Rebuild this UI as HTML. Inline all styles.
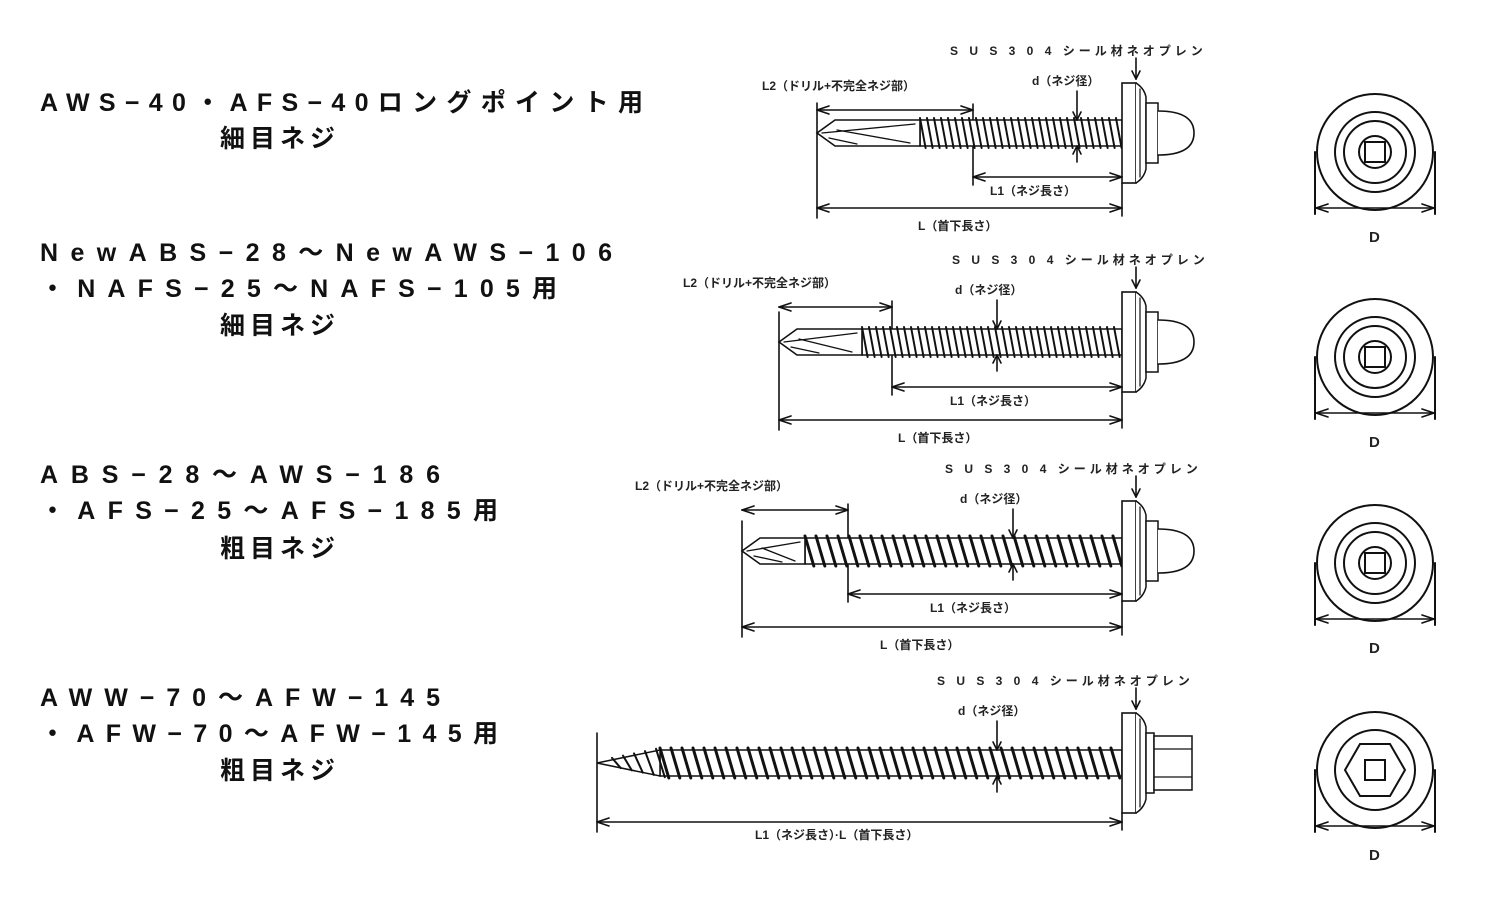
<!DOCTYPE html>
<html><head><meta charset="utf-8"><style>
body{margin:0;background:#fff;width:1500px;height:900px;overflow:hidden}
svg{position:absolute;left:0;top:0}
.t{font-family:"Liberation Sans","Noto Sans CJK JP",sans-serif;font-weight:bold;font-size:25px;fill:#111}
.s{font-family:"Liberation Sans","Noto Sans CJK JP",sans-serif;font-weight:bold;font-size:12px;fill:#222}
.sp{letter-spacing:4px}
</style></head><body>
<svg id="g" width="1500" height="900" viewBox="0 0 1500 900" stroke-linecap="round">
<text class="t" x="40" y="111" textLength="603" lengthAdjust="spacing">AWS−40・AFS−40ロングポイント用</text>
<text class="t" x="220" y="147" textLength="115" lengthAdjust="spacing">細目ネジ</text>
<text class="t" x="40" y="261" textLength="572" lengthAdjust="spacing">NewABS−28〜NewAWS−106</text>
<text class="t" x="40" y="297" textLength="517" lengthAdjust="spacing">・NAFS−25〜NAFS−105用</text>
<text class="t" x="220" y="334" textLength="115" lengthAdjust="spacing">細目ネジ</text>
<text class="t" x="40" y="483" textLength="400" lengthAdjust="spacing">ABS−28〜AWS−186</text>
<text class="t" x="40" y="519" textLength="458" lengthAdjust="spacing">・AFS−25〜AFS−185用</text>
<text class="t" x="220" y="557" textLength="115" lengthAdjust="spacing">粗目ネジ</text>
<text class="t" x="40" y="706" textLength="400" lengthAdjust="spacing">AWW−70〜AFW−145</text>
<text class="t" x="40" y="742" textLength="458" lengthAdjust="spacing">・AFW−70〜AFW−145用</text>
<text class="t" x="220" y="779" textLength="115" lengthAdjust="spacing">粗目ネジ</text>
</svg>
<script>
var g=document.getElementById('g'),NS='http://www.w3.org/2000/svg';
function el(n,a,txt){var e=document.createElementNS(NS,n);for(var k in a)e.setAttribute(k,a[k]);if(txt)e.textContent=txt;g.appendChild(e);return e;}
function ln(x1,y1,x2,y2,w){el('line',{x1:x1,y1:y1,x2:x2,y2:y2,stroke:'#111','stroke-width':w||1.6});}
function arrowH(x1,x2,y){ln(x1,y,x2,y);ln(x1,y,x1+12,y-4);ln(x1,y,x1+12,y+4);ln(x2,y,x2-12,y-4);ln(x2,y,x2-12,y+4);}
function txt(x,y,s,cls){el('text',{x:x,y:y,'class':cls||'s'},s);}
function screw(o){
 var cy=o.cy,tip=o.tip,wx=1122,top=cy-13,bot=cy+13;
 el('rect',{x:o.thStart,y:top,width:wx-o.thStart,height:26,fill:'#fff',stroke:'#111','stroke-width':1.5});
 for(var x=o.thStart;x<wx-2;x+=o.pitch){ln(x,top-2,x+o.pitch*0.8,bot+2,o.coarse?3:2);}
 if(o.wood){
  el('path',{d:'M'+tip+' '+cy+' L'+o.thStart+' '+top+' L'+o.thStart+' '+bot+' Z',fill:'#fff',stroke:'#111','stroke-width':1.5});
  for(var x=tip+15;x<o.thStart;x+=o.pitch){var f=(x-tip)/(o.thStart-tip);ln(x,cy-13*f-2,x+o.pitch*0.8,cy+13*f+2,2);}
 } else {
  el('path',{d:'M'+tip+' '+cy+' L'+(tip+18)+' '+top+' L'+o.thStart+' '+top+' L'+o.thStart+' '+bot+' L'+(tip+18)+' '+bot+' Z',fill:'#fff',stroke:'#111','stroke-width':1.6});
  ln(tip+5,cy,o.thStart-5,top+4,1.3);ln(tip+20,cy-3,o.thStart-10,bot-3,1.3);ln(tip+12,cy+5,tip+40,bot-2,1.3);
 }
 el('rect',{x:wx,y:cy-50,width:14,height:100,fill:'#fff',stroke:'#111','stroke-width':1.6});
 el('path',{d:'M'+(wx+14)+' '+(cy-50)+' Q'+(wx+22)+' '+(cy-45)+' '+(wx+24)+' '+(cy-36)+' L'+(wx+24)+' '+(cy+36)+' Q'+(wx+22)+' '+(cy+45)+' '+(wx+14)+' '+(cy+50),fill:'#fff',stroke:'#111','stroke-width':1.5});
 ln(wx+18,cy-44,wx+18,cy+44,1.2);
 if(o.wood){
  el('rect',{x:wx+24,y:cy-30,width:8,height:60,fill:'#fff',stroke:'#111','stroke-width':1.5});
  el('rect',{x:wx+32,y:cy-27,width:38,height:54,fill:'#fff',stroke:'#111','stroke-width':1.5});
  ln(wx+32,cy-14,wx+70,cy-14,1.2);ln(wx+32,cy+14,wx+70,cy+14,1.2);
 } else {
  el('rect',{x:wx+24,y:cy-30,width:12,height:60,fill:'#fff',stroke:'#111','stroke-width':1.5});
  el('path',{d:'M'+(wx+36)+' '+(cy-22)+' Q'+(wx+72)+' '+(cy-22)+' '+(wx+72)+' '+cy+' Q'+(wx+72)+' '+(cy+22)+' '+(wx+36)+' '+(cy+22),fill:'#fff',stroke:'#111','stroke-width':1.6});
 }
 txt(o.susx,cy-78,'S U S 3 0 4 シール材ネオプレン','s sp');
 ln(wx+14,cy-75,wx+14,cy-54);ln(wx+14,cy-54,wx+10,cy-62);ln(wx+14,cy-54,wx+18,cy-62);
 txt(o.dx,cy-48,'d（ネジ径）');
 var dX=o.dxl;ln(dX,cy-42,dX,top);ln(dX,top,dX-4,top-8);ln(dX,top,dX+4,top-8);
 ln(dX,bot,dX,bot+16);ln(dX,bot,dX-4,bot+8);ln(dX,bot,dX+4,bot+8);
 ln(tip,cy-30,tip,o.Ly+10);ln(wx,cy+50,wx,o.Ly+8);
 if(o.wood){arrowH(tip,wx,o.Ly);txt(755,o.Ly+17,'L1（ネジ長さ）·L（首下長さ）');return;}
 ln(o.l2,o.L2y-6,o.l2,cy-14);ln(o.l2,cy+14,o.l2,o.L1y+8);
 arrowH(tip,o.l2,o.L2y);arrowH(o.l2,wx,o.L1y);arrowH(tip,wx,o.Ly);
 txt(o.l2lx,o.L2y-20,'L2（ドリル+不完全ネジ部）');
 txt(o.l1lx,o.L1y+18,'L1（ネジ長さ）');
 txt(o.llx,o.Ly+22,'L（首下長さ）');
}
screw({cy:133,tip:817,thStart:920,pitch:7,l2:973,L2y:110,L1y:177,Ly:208,susx:950,dx:1032,dxl:1077,l2lx:762,l1lx:990,llx:918});
screw({cy:342,tip:779,thStart:862,pitch:7,l2:892,L2y:307,L1y:387,Ly:420,susx:952,dx:955,dxl:997,l2lx:683,l1lx:950,llx:898});
screw({cy:551,tip:742,thStart:805,pitch:11,coarse:1,l2:848,L2y:510,L1y:594,Ly:627,susx:945,dx:960,dxl:1013,l2lx:635,l1lx:930,llx:880});
screw({cy:763,tip:597,thStart:660,pitch:11,coarse:1,wood:1,Ly:822,susx:937,dx:958,dxl:997});
[152,357,563,770].forEach(function(c,i){
 var cx=1375;
 el('circle',{cx:cx,cy:c,r:58,fill:'none',stroke:'#111','stroke-width':2});
 el('circle',{cx:cx,cy:c,r:40,fill:'none',stroke:'#111','stroke-width':2});
 if(i<3){el('circle',{cx:cx,cy:c,r:31,fill:'none',stroke:'#111','stroke-width':2});
  el('circle',{cx:cx,cy:c,r:16,fill:'none',stroke:'#111','stroke-width':2});
  el('rect',{x:cx-10,y:c-10,width:20,height:20,fill:'none',stroke:'#111','stroke-width':2});}
 else{var p='';for(var k=0;k<6;k++){var a=Math.PI/3*k;p+=(cx+30*Math.cos(a))+','+(c+30*Math.sin(a))+' ';}
  el('polygon',{points:p,fill:'none',stroke:'#111','stroke-width':2});
  el('rect',{x:cx-10,y:c-10,width:20,height:20,fill:'none',stroke:'#111','stroke-width':2});}
 ln(cx-60,c,cx-60,c+62,2);ln(cx+60,c,cx+60,c+62,2);arrowH(cx-59,cx+59,c+56);
 el('text',{x:cx-6,y:c+90,'class':'s',style:'font-size:15px'},'D');
});
</script>
</body></html>
